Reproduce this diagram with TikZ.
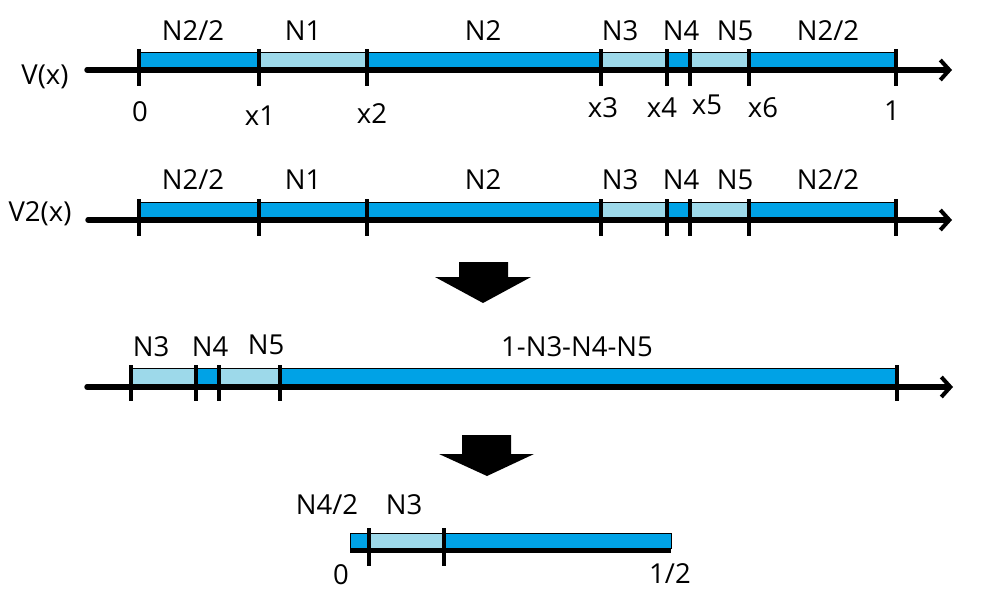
\documentclass[tikz,border=0pt]{standalone}
\usepackage{fontspec}
\setmainfont{Open Sans}
\usetikzlibrary{arrows.meta}
\definecolor{segdark}{RGB}{0,162,230}
\definecolor{seglight}{RGB}{157,217,234}
\begin{document}
\begin{tikzpicture}[x=1pt,y=-1pt,
  axisline/.style={line width=5.4pt, line cap=round,
    -{Straight Barb[length=9pt,width=20pt,line width=4pt]}},
  baseline/.style={line width=5pt},
  tick/.style={line width=3.3pt},
  seg/.style={draw=black, line width=1pt},
  lbl/.style={anchor=base, inner sep=0pt, font=\fontsize{27.5}{32}\selectfont},
  bigarrow/.style={fill=black}]
\useasboundingbox (0,0) rectangle (1000,600);

% ---------- V(x) ----------
\foreach \a/\b/\c in {139/259/segdark, 259/367/seglight, 367/601/segdark,
    601/667/seglight, 667/690/segdark, 690/749/seglight, 749/896/segdark}
  \filldraw[seg, fill=\c] (\a,52) rectangle (\b,68);
\coordinate (va) at (87,70);
\coordinate (vb) at (952,70);
\draw[axisline] (va) -- (vb);
\foreach \x in {139,259,367,601,667,690,749,896}
  \draw[tick] (\x,49) -- (\x,86);
\node[lbl] (vlab) at (45,84) {V(x)};
\node[lbl] (va1) at (193,40) {N2/2};
\node[lbl] (va2) at (303,40) {N1};
\node[lbl] (va3) at (483,40) {N2};
\node[lbl] (va4) at (620,40) {N3};
\node[lbl] (va5) at (681,40) {N4};
\node[lbl] (va6) at (735,40) {N5};
\node[lbl] (va7) at (828,40) {N2/2};
\node[lbl] (vx0) at (140,121) {0};
\node[lbl] (vx1) at (260,125) {x1};
\node[lbl] (vx2) at (372,123) {x2};
\node[lbl] (vx3) at (603,117) {x3};
\node[lbl] (vx4) at (662,117) {x4};
\node[lbl] (vx5) at (707,114) {x5};
\node[lbl] (vx6) at (763,117) {x6};
\node[lbl] (vx7) at (892,120) {1};

% ---------- V2(x) ----------
\foreach \a/\b/\c in {139/259/segdark, 259/367/segdark, 367/601/segdark,
    601/667/seglight, 667/690/segdark, 690/749/seglight, 749/896/segdark}
  \filldraw[seg, fill=\c] (\a,202) rectangle (\b,218);
\coordinate (wa) at (88,220);
\coordinate (wb) at (952,220);
\draw[axisline] (wa) -- (wb);
\foreach \x in {139,259,367,601,667,690,749,896}
  \draw[tick] (\x,199) -- (\x,236);
\node[lbl] (wlab) at (40,221) {V2(x)};
\node[lbl] (wa1) at (193,189) {N2/2};
\node[lbl] (wa2) at (303,189) {N1};
\node[lbl] (wa3) at (483,189) {N2};
\node[lbl] (wa4) at (620,189) {N3};
\node[lbl] (wa5) at (681,189) {N4};
\node[lbl] (wa6) at (735,189) {N5};
\node[lbl] (wa7) at (828,189) {N2/2};

% ---------- first reduction arrow ----------
\fill[bigarrow] (459,262) -- (508,262) -- (508,277) -- (531,277)
  -- (483,303) -- (435,277) -- (459,277) -- cycle;

% ---------- reordered ----------
\foreach \a/\b/\c in {131/196/seglight, 196/219/segdark, 219/280/seglight,
    280/897/segdark}
  \filldraw[seg, fill=\c] (\a,368.5) rectangle (\b,385);
\coordinate (ua) at (87,387);
\coordinate (ub) at (953,387);
\draw[axisline] (ua) -- (ub);
\foreach \x in {131,196,219,280,897}
  \draw[tick] (\x,365) -- (\x,401);
\node[lbl] (ua1) at (151,356) {N3};
\node[lbl] (ua2) at (210,356) {N4};
\node[lbl] (ua3) at (266,354) {N5};
\node[lbl] (ua4) at (577,356) {1-N3-N4-N5};

% ---------- second reduction arrow ----------
\fill[bigarrow] (462,435) -- (511,435) -- (511,454) -- (534,454)
  -- (487,476) -- (439,454) -- (462,454) -- cycle;

% ---------- half interval ----------
\foreach \a/\b/\c in {350/369/segdark, 369/444/seglight, 444/671/segdark}
  \filldraw[seg, fill=\c] (\a,533) rectangle (\b,548);
\coordinate (ta) at (350,550);
\coordinate (tb) at (671,550);
\draw[baseline] (ta) -- (tb);
\foreach \x in {369,444}
  \draw[tick] (\x,528) -- (\x,566);
\node[lbl] (ta1) at (327,514) {N4/2};
\node[lbl] (ta2) at (404,514) {N3};
\node[lbl] (tx0) at (341,584) {0};
\node[lbl] (tx1) at (670,583) {1/2};
\end{tikzpicture}
\end{document}
